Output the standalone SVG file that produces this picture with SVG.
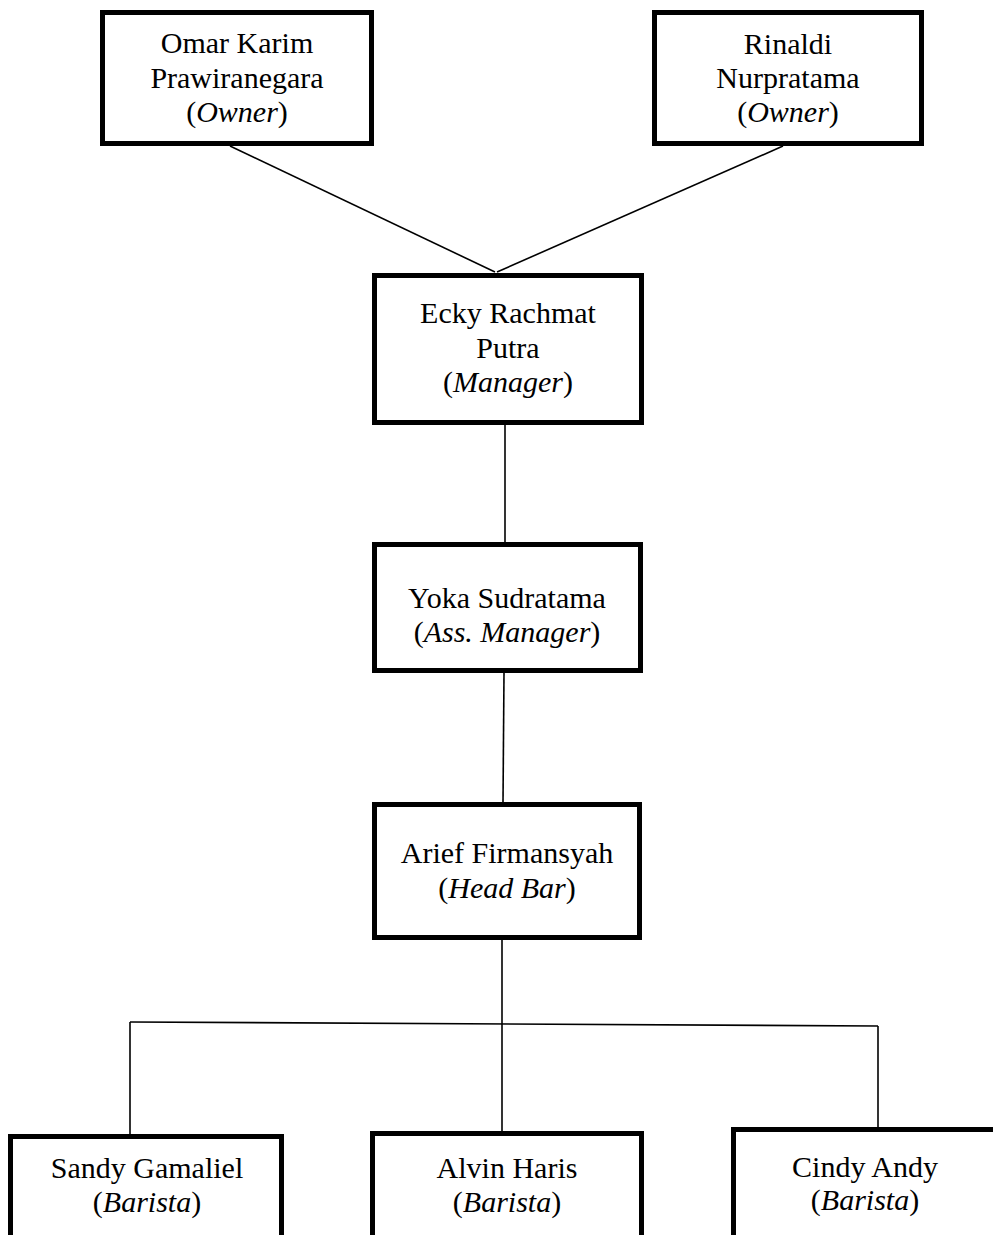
<svg xmlns="http://www.w3.org/2000/svg" width="993" height="1235" viewBox="0 0 993 1235">
<style>
.box{fill:#fff;stroke:#000;stroke-width:5}
.t{font-family:"Liberation Serif","Times New Roman",serif;font-size:30px;fill:#000;text-anchor:middle}
.i{font-style:italic}
.c{stroke:#000;stroke-width:1.6;fill:none}
</style>
<rect width="993" height="1235" fill="#fff"/>
<g id="connectors">
<line class="c" x1="230" y1="146" x2="495" y2="272"/>
<line class="c" x1="783" y1="146" x2="497" y2="272"/>
<line class="c" x1="505" y1="425" x2="505" y2="542"/>
<line class="c" x1="504" y1="673" x2="503" y2="802"/>
<line class="c" x1="502" y1="940" x2="502" y2="1131"/>
<line class="c" x1="130" y1="1022" x2="878" y2="1026"/>
<line class="c" x1="130" y1="1022" x2="130" y2="1134"/>
<line class="c" x1="878" y1="1026" x2="878" y2="1128"/>
</g>
<g id="omar">
<rect class="box" x="102.5" y="12.5" width="269" height="131"/>
<text class="t" x="237" y="53">Omar Karim</text>
<text class="t" x="237" y="88">Prawiranegara</text>
<text class="t" x="237" y="122">(<tspan class="i">Owner</tspan>)</text>
</g>
<g id="rinaldi">
<rect class="box" x="654.5" y="12.5" width="267" height="131"/>
<text class="t" x="788" y="54">Rinaldi</text>
<text class="t" x="788" y="88">Nurpratama</text>
<text class="t" x="788" y="122">(<tspan class="i">Owner</tspan>)</text>
</g>
<g id="ecky">
<rect class="box" x="374.5" y="275.5" width="267" height="147"/>
<text class="t" x="508" y="323">Ecky Rachmat</text>
<text class="t" x="508" y="358">Putra</text>
<text class="t" x="508" y="392">(<tspan class="i">Manager</tspan>)</text>
</g>
<g id="yoka">
<rect class="box" x="374.5" y="544.5" width="266" height="126"/>
<text class="t" x="507" y="608">Yoka Sudratama</text>
<text class="t" x="507" y="642">(<tspan class="i">Ass. Manager</tspan>)</text>
</g>
<g id="arief">
<rect class="box" x="374.5" y="804.5" width="265" height="133"/>
<text class="t" x="507" y="863">Arief Firmansyah</text>
<text class="t" x="507" y="898">(<tspan class="i">Head Bar</tspan>)</text>
</g>
<g id="sandy">
<rect class="box" x="10.5" y="1136.5" width="271" height="120"/>
<text class="t" x="147" y="1178">Sandy Gamaliel</text>
<text class="t" x="147" y="1212">(<tspan class="i">Barista</tspan>)</text>
</g>
<g id="alvin">
<rect class="box" x="372.5" y="1133.5" width="269" height="120"/>
<text class="t" x="507" y="1178">Alvin Haris</text>
<text class="t" x="507" y="1212">(<tspan class="i">Barista</tspan>)</text>
</g>
<g id="cindy">
<rect class="box" x="733.5" y="1129.5" width="280" height="120"/>
<text class="t" x="865" y="1177">Cindy Andy</text>
<text class="t" x="865" y="1210">(<tspan class="i">Barista</tspan>)</text>
</g>
</svg>
